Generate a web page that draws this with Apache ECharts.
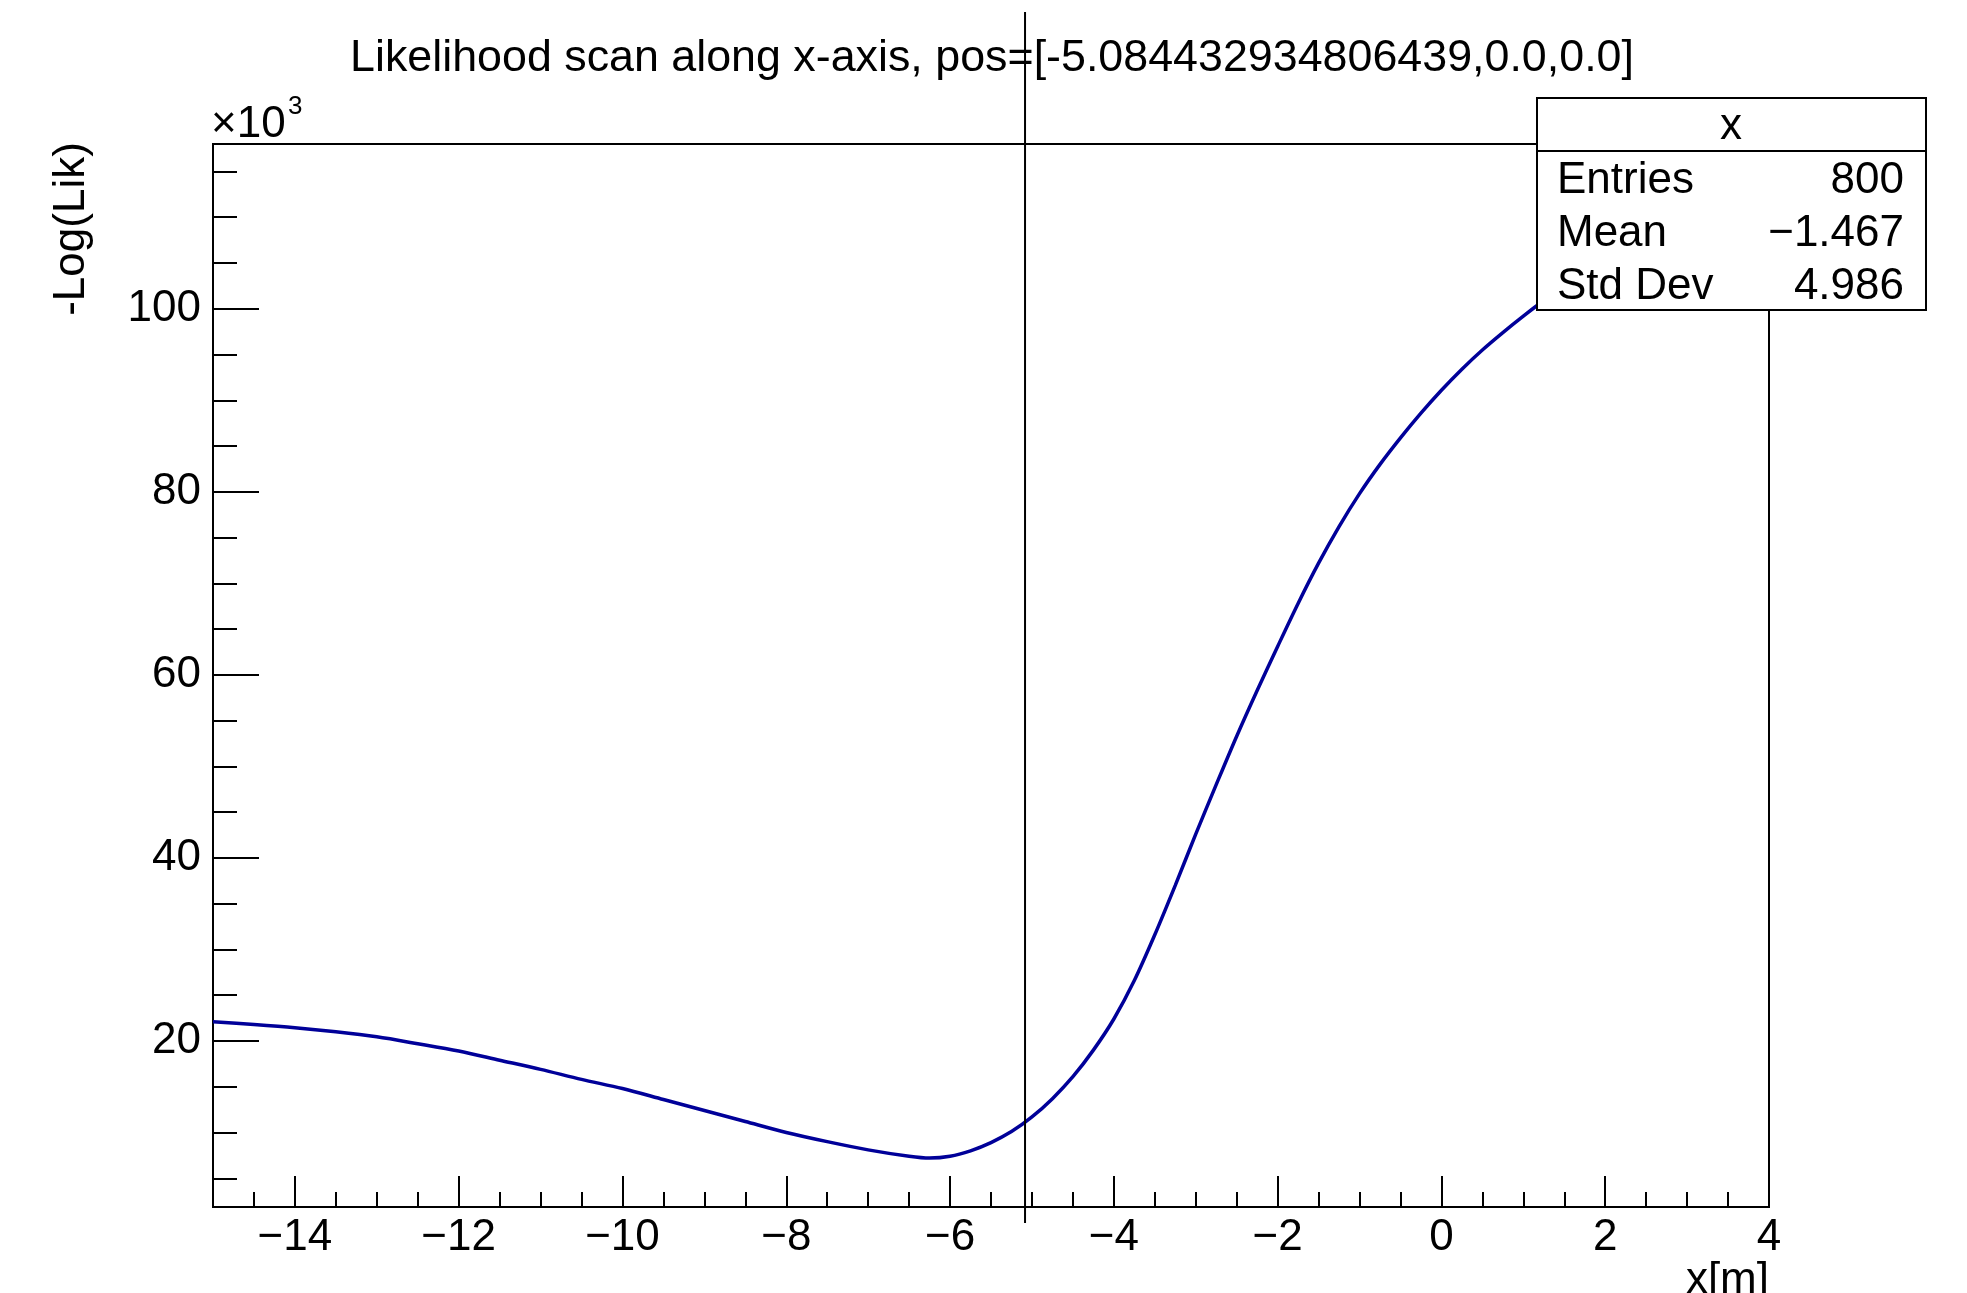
<!DOCTYPE html>
<html><head><meta charset="utf-8">
<script src="https://cdn.jsdelivr.net/npm/echarts@6/dist/echarts.min.js"></script>
<style>html,body{margin:0;padding:0;background:#fff}#c{width:1967px;height:1293px}</style>
</head><body><div id="c"></div>
<script>
// ---- data ----
const scanX = [-15.0,-14.5,-14.0,-13.5,-13.0,-12.5,-12.0,-11.5,-11.0,-10.5,-10.0,-9.5,-9.0,-8.5,-8.0,-7.5,-7.0,-6.5,-6.25,-6.0,-5.75,-5.5,-5.25,-5.0,-4.75,-4.5,-4.25,-4.0,-3.75,-3.5,-3.25,-3.0,-2.75,-2.5,-2.25,-2.0,-1.75,-1.5,-1.25,-1.0,-0.75,-0.5,-0.25,0.0,0.25,0.5,0.75,1.0,1.25,1.5,2.0,2.5,3.0,3.5,4.0];
const negLogLik = [22.1,21.8,21.45,21.0,20.45,19.7,18.9,17.9,16.9,15.8,14.8,13.6,12.4,11.2,10.0,9.0,8.1,7.4,7.2,7.4,8.0,8.9,10.1,11.7,13.7,16.1,19.0,22.4,26.6,31.6,37.0,42.6,48.0,53.3,58.3,63.1,67.8,72.2,76.2,79.8,83.0,85.9,88.6,91.1,93.4,95.5,97.4,99.2,100.9,102.5,105.4,107.9,110.0,111.6,112.8];
const xMajorTicks = [-14,-12,-10,-8,-6,-4,-2,0,2,4];
const yMajorTicks = [20,40,60,80,100];
const xRange = [-15, 4];
const yRange = [1.86, 118];
const markerX = -5.084432934806439;
const titleText = 'Likelihood scan along x-axis, pos=[-5.084432934806439,0.0,0.0]';
const statsTitle = 'x';
const statsLabels = ['Entries', 'Mean', 'Std Dev'];
const statsValues = ['800', '\u22121.467', '4.986'];
const xAxisName = 'x[m]';
const yAxisName = '-Log(Lik)';

const xMinorTicks = [];
for (let v = -14.5; v <= 3.5 + 1e-9; v += 0.5) xMinorTicks.push(+v.toFixed(1));
const yMinorTicks = [];
for (let v = 5; v <= 115; v += 5) yMinorTicks.push(v);

const FONT = '"Liberation Sans", Arial, Helvetica, sans-serif';
const fmt = v => (v < 0 ? '\u2212' + Math.abs(v) : String(v));
const blk = {color: '#000', width: 2};

const chart = echarts.init(document.getElementById('c'), null, {renderer: 'canvas'});
const data = scanX.map((x, i) => [x, negLogLik[i]]);

chart.setOption({
  backgroundColor: '#fff',
  animation: false,
  grid: {left: 213, top: 144, width: 1556, height: 1063, show: true, borderColor: '#000', borderWidth: 2, backgroundColor: 'transparent'},
  xAxis: [
    {type: 'value', min: xRange[0], max: xRange[1], position: 'bottom',
     axisLine: {show: true, onZero: false, lineStyle: blk},
     axisTick: {show: true, inside: true, length: 31, customValues: xMajorTicks, lineStyle: blk},
     axisLabel: {show: true, customValues: xMajorTicks, formatter: fmt, fontSize: 44, fontFamily: FONT, color: '#000', margin: 9},
     splitLine: {show: false}},
    {type: 'value', min: xRange[0], max: xRange[1], position: 'bottom',
     axisLine: {show: false, onZero: false},
     axisTick: {show: true, inside: true, length: 15, customValues: xMinorTicks, lineStyle: blk},
     axisLabel: {show: false},
     splitLine: {show: false}}
  ],
  yAxis: [
    {type: 'value', min: yRange[0], max: yRange[1], position: 'left',
     axisLine: {show: true, onZero: false, lineStyle: blk},
     axisTick: {show: true, inside: true, length: 46, customValues: yMajorTicks, lineStyle: blk},
     axisLabel: {show: true, customValues: yMajorTicks, formatter: fmt, fontSize: 44, fontFamily: FONT, color: '#000', margin: 12},
     splitLine: {show: false}},
    {type: 'value', min: yRange[0], max: yRange[1], position: 'left',
     axisLine: {show: false, onZero: false},
     axisTick: {show: true, inside: true, length: 24, customValues: yMinorTicks, lineStyle: blk},
     axisLabel: {show: false},
     splitLine: {show: false}}
  ],
  series: [{
    type: 'line', data: data, xAxisIndex: 0, yAxisIndex: 0,
    showSymbol: false, smooth: 0.3,
    lineStyle: {color: '#000099', width: 3.5}, z: 3
  }]
});

const px = chart.convertToPixel({xAxisIndex: 0}, markerX);
const statsRows = statsLabels.map((lab, i) => ([
  {type: 'text', z: 101, style: {x: 1557, y: 181 + i * 53, text: lab, fontSize: 44, fontFamily: FONT, fill: '#000', align: 'left', verticalAlign: 'middle'}},
  {type: 'text', z: 101, style: {x: 1904, y: 181 + i * 53, text: statsValues[i], fontSize: 44, fontFamily: FONT, fill: '#000', align: 'right', verticalAlign: 'middle'}}
])).flat();

chart.setOption({
  graphic: {elements: [
    {type: 'line', z: 50, shape: {x1: px, y1: 12, x2: px, y2: 1223}, style: {stroke: '#000', lineWidth: 2}},
    {type: 'text', z: 100, style: {x: 992, y: 59, text: titleText, fontSize: 44.8, fontFamily: FONT, fill: '#000', align: 'center', verticalAlign: 'middle'}},
    {type: 'text', z: 100, style: {x: 211, y: 125, text: '\u00d710', fontSize: 44, fontFamily: FONT, fill: '#000', align: 'left', verticalAlign: 'middle'}},
    {type: 'text', z: 100, style: {x: 288, y: 107, text: '3', fontSize: 26, fontFamily: FONT, fill: '#000', align: 'left', verticalAlign: 'middle'}},
    {type: 'text', z: 100, x: 72, y: 229, rotation: Math.PI / 2, style: {x: 0, y: 0, text: yAxisName, fontSize: 44, fontFamily: FONT, fill: '#000', align: 'center', verticalAlign: 'middle'}},
    {type: 'text', z: 100, style: {x: 1769, y: 1281, text: xAxisName, fontSize: 44, fontFamily: FONT, fill: '#000', align: 'right', verticalAlign: 'middle'}},
    {type: 'rect', z: 100, shape: {x: 1537, y: 98, width: 389, height: 212}, style: {fill: '#fff', stroke: '#000', lineWidth: 2}},
    {type: 'line', z: 101, shape: {x1: 1537, y1: 151, x2: 1926, y2: 151}, style: {stroke: '#000', lineWidth: 2}},
    {type: 'text', z: 101, style: {x: 1731, y: 127, text: statsTitle, fontSize: 44, fontFamily: FONT, fill: '#000', align: 'center', verticalAlign: 'middle'}}
  ].concat(statsRows)}
});
</script>
</body></html>
